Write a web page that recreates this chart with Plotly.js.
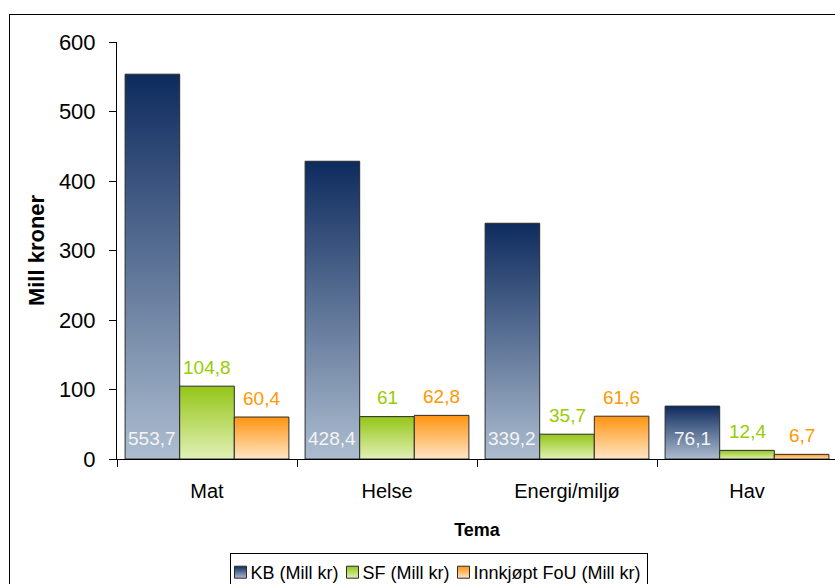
<!DOCTYPE html>
<html>
<head>
<meta charset="utf-8">
<script src="https://cdn.plot.ly/plotly-3.0.1.min.js"></script>
<style>
html,body{margin:0;padding:0;overflow:hidden;background:#fff;}
#wrap{position:relative;width:835px;height:584px;overflow:hidden;}
#chart{position:absolute;left:0;top:0;}
#frame{position:absolute;left:9px;top:14px;width:900px;height:700px;border:1px solid #000;pointer-events:none;}
</style>
</head>
<body>
<svg width="0" height="0" style="position:absolute">
  <defs>
    <linearGradient id="gKB" x1="0" y1="0" x2="0" y2="1">
      <stop offset="0" stop-color="#0e2b5e"/>
      <stop offset="1" stop-color="#adbdd0"/>
    </linearGradient>
    <linearGradient id="gSF" x1="0" y1="0" x2="0" y2="1">
      <stop offset="0" stop-color="#94c617"/>
      <stop offset="1" stop-color="#e2f0b6"/>
    </linearGradient>
    <linearGradient id="gFOU" x1="0" y1="0" x2="0" y2="1">
      <stop offset="0" stop-color="#ff9410"/>
      <stop offset="1" stop-color="#ffe6c6"/>
    </linearGradient>
  </defs>
</svg>
<div id="wrap"><div id="chart"></div><div id="frame"></div></div>
<script>
// ---- data ----
const categories = ['Mat', 'Helse', 'Energi/miljø', 'Hav'];
const kbValues = [553.7, 428.4, 339.2, 76.1];
const sfValues = [104.8, 61, 35.7, 12.4];
const fouValues = [60.4, 62.8, 61.6, 6.7];
const seriesNames = ['KB (Mill kr)', 'SF (Mill kr)', 'Innkjøpt FoU (Mill kr)'];
const yTickValues = [0, 100, 200, 300, 400, 500, 600];
const xTitle = 'Tema';
const yTitle = 'Mill kroner';

// ---- styles ----
const FONT = 'Liberation Sans, Arial, sans-serif';
const fallbackColors = ['#4a5f86', '#bedd6a', '#ffbd6b'];
const gradIds = ['gKB', 'gSF', 'gFOU'];
const labelColors = ['#f4f4f4', '#99cc00', '#ff9900'];
const W = 837, H = 584;
const M = {l: 117, r: 0, t: 42, b: 125};
const bargap = 0.09;
const legendCenterX = 438;

const seriesValues = [kbValues, sfValues, fouValues];
const traces = seriesValues.map((vals, j) => ({
  type: 'bar',
  name: seriesNames[j],
  x: categories,
  y: vals,
  marker: {color: fallbackColors[j], line: {color: '#2b2b2b', width: 1}},
  hoverinfo: 'none'
}));

const fmt = v => String(v).replace('.', ',');
const plotW = W - M.l - M.r;
const barW = plotW / categories.length * (1 - bargap) / seriesValues.length;
const annotations = [];
seriesValues.forEach((vals, j) => {
  vals.forEach((v, i) => {
    annotations.push({
      x: categories[i], y: j === 0 ? 0 : v, xref: 'x', yref: 'y',
      text: fmt(v), showarrow: false,
      xshift: (j - 1) * barW, yshift: j === 0 ? 21 : 19,
      xanchor: 'center', yanchor: 'middle',
      font: {family: FONT, size: 19, color: labelColors[j]}
    });
  });
});

const layout = {
  width: W, height: H,
  margin: M,
  paper_bgcolor: 'rgba(0,0,0,0)', plot_bgcolor: 'rgba(0,0,0,0)',
  barmode: 'group', bargap: bargap, bargroupgap: 0,
  font: {family: FONT, size: 20, color: '#000'},
  showlegend: true,
  legend: {
    orientation: 'h', xref: 'container', yref: 'container',
    x: legendCenterX / W, xanchor: 'center', y: 1 - 553 / H, yanchor: 'top',
    bordercolor: '#000', borderwidth: 1, bgcolor: '#fff',
    font: {family: FONT, size: 18, color: '#000'},
    traceorder: 'normal'
  },
  xaxis: {
    type: 'category', tickson: 'boundaries', ticks: 'outside', ticklen: 7,
    tickcolor: '#000', showline: true, linecolor: '#000', linewidth: 1,
    showgrid: false, zeroline: false, ticklabelstandoff: 14,
    tickfont: {family: FONT, size: 20, color: '#000'},
    title: {text: xTitle, font: {family: FONT, size: 18, color: '#000', weight: 'bold'}, standoff: 22}
  },
  yaxis: {
    range: [0, 600], tickvals: yTickValues, ticktext: yTickValues.map(String),
    ticks: 'outside', ticklen: 7, tickcolor: '#000',
    showline: true, linecolor: '#000', linewidth: 1,
    showgrid: false, zeroline: false, ticklabelstandoff: 9,
    tickfont: {family: FONT, size: 22, color: '#000'},
    title: {text: yTitle, font: {family: FONT, size: 22, color: '#000', weight: 'bold'}, standoff: 8}
  },
  annotations: annotations,
  hovermode: false
};

const gd = document.getElementById('chart');
function applyGradients() {
  gd.querySelectorAll('.barlayer .trace').forEach((t, i) => {
    t.querySelectorAll('.point path').forEach(p => { p.style.fill = 'url(#' + gradIds[i] + ')'; });
  });
  gd.querySelectorAll('.legend .traces').forEach((t, i) => {
    t.querySelectorAll('.legendpoints path').forEach(p => { p.style.fill = 'url(#' + gradIds[i] + ')'; });
  });
}
function parseTranslate(el) {
  const tr = el.getAttribute('transform') || '';
  const m = tr.match(/translate\(\s*([-\d.e]+)[ ,]+([-\d.e]+)\s*\)/);
  return m ? [parseFloat(m[1]), parseFloat(m[2])] : [0, 0];
}
// Compact the legend (Excel-like: small gap between swatch and text)
function compactLegend() {
  try {
    const leg = gd.querySelector('.legend');
    if (!leg) return;
    const items = Array.from(leg.querySelectorAll('.traces'));
    let cumX = 0;
    const swLeft = 5, txLeft = 21, between = 3, rightPad = 6;
    items.forEach(item => {
      const text = item.querySelector('text.legendtext');
      const layers = item.querySelector('g.layers') || item.querySelector('.legendpoints');
      if (!text || !layers) return;
      const lb = layers.getBBox();
      const dxL = swLeft - lb.x;
      layers.setAttribute('transform', 'translate(' + dxL + ',0) ' + (layers.getAttribute('transform') || ''));
      const tb = text.getBBox();
      const dxT = txLeft - tb.x;
      text.setAttribute('x', (parseFloat(text.getAttribute('x') || 0) + dxT));
      const ty = parseTranslate(item)[1];
      item.setAttribute('transform', 'translate(' + cumX + ',' + ty + ')');
      cumX += txLeft + tb.width + between;
    });
    const total = cumX - between + rightPad;
    const bg = leg.querySelector('rect.bg');
    if (bg) bg.setAttribute('width', total);
    const ly = parseTranslate(leg)[1];
    leg.setAttribute('transform', 'translate(' + (legendCenterX - total / 2) + ',' + ly + ')');
  } catch (e) { /* keep default legend */ }
}
Plotly.newPlot(gd, traces, layout, {displayModeBar: false, staticPlot: true}).then(() => {
  applyGradients();
  compactLegend();
});
</script>
</body>
</html>
